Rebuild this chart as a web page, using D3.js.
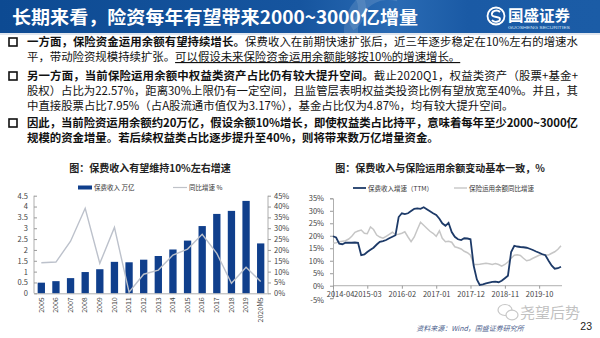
<!DOCTYPE html>
<html>
<head>
<meta charset="utf-8">
<script src="https://cdnjs.cloudflare.com/ajax/libs/d3/7.8.5/d3.min.js"></script>
<style>
  html, body { margin: 0; padding: 0; background: #fff; }
  svg { display: block; }
  text { font-family: "Noto Sans CJK SC", "Noto Sans", sans-serif; }
  .num { font-family: "Liberation Sans", Arial, sans-serif; }
</style>
</head>
<body>
<svg id="slide" width="600" height="338"></svg>
<script>
// ---- left chart: annual premium income (trillion yuan) and YoY growth (%)
const years = ["2005","2006","2007","2008","2009","2010","2011","2012","2013","2014","2015","2016","2017","2018","2019","2020M5"];
const premium = [0.49,0.56,0.70,0.98,1.11,1.45,1.43,1.55,1.72,2.02,2.43,3.10,3.66,3.80,4.26,2.30];
const premiumYoY = [14.1,14.4,24.0,39.2,13.8,30.4,0.5,8.8,10.7,17.6,20.4,27.2,18.4,4.6,12.0,5.4];
const leftTicks = [0,0.5,1,1.5,2,2.5,3,3.5,4,4.5];
const rightTicks = [0,5,10,15,20,25,30,35,40,45];

// ---- right chart: monthly growth rates (%), 2014-04 to 2020-05
const monthStart = "2014-04";
const premiumTTM = [19.8,19.3,16.8,16.6,17.2,17.2,17.2,17.3,17.2,12.2,
  12.5,13.5,14.4,15.2,16.5,17.6,17.9,18.3,19.0,19.6,
  20.2,27.5,29.0,28.7,29.0,29.9,30.8,31.0,30.8,31.4,
  30.6,29.8,29.0,28.3,26.8,25.0,24.0,25.2,21.5,19.6,
  18.6,18.3,19.0,18.9,18.6,8.0,2.5,0.3,0.5,0.9,
  1.2,1.5,1.6,1.4,2.0,3.0,4.0,13.5,16.0,15.7,
  15.5,15.4,15.2,14.8,14.3,13.7,13.2,12.6,12.2,10.0,
  8.0,6.8,7.0,7.6];
const fundsYoY = [17.0,17.2,17.6,17.8,18.0,18.7,19.8,21.4,21.9,22.3,
  21.0,20.8,23.5,22.5,20.3,19.5,19.0,19.8,20.6,21.4,
  20.5,20.6,21.0,21.6,19.5,17.6,19.5,22.5,25.4,24.2,
  23.0,21.8,21.0,19.8,22.0,19.0,17.6,17.8,17.4,15.6,
  15.2,14.7,13.8,13.2,12.2,8.6,8.5,8.6,8.8,9.0,
  8.8,8.5,8.9,8.5,7.8,8.5,9.5,11.0,12.2,12.4,
  12.1,11.0,10.0,10.3,11.0,11.6,12.2,12.6,12.4,12.3,
  13.0,13.6,14.6,16.0];
const monthTickLabels = ["2014-04","2015-03","2016-02","2017-01","2017-12","2018-11","2019-10"];
const pctTicks = [-5,0,5,10,15,20,25,30,35];

const svg = d3.select("#slide");
svg.append("rect").attr("width", 600).attr("height", 338).attr("fill", "#fff");

// ---- header band
const defs = svg.append("defs");
const hg = defs.append("linearGradient").attr("id", "hdr").attr("x1", "0").attr("x2", "1");
[["0%","#0d4a92"],["50%","#16559f"],["66%","#2a6bb4"],["78%","#1a5aa5"],["100%","#1b5ca6"]]
  .forEach(([o,c]) => hg.append("stop").attr("offset", o).attr("stop-color", c));
svg.append("rect").attr("x", 0).attr("y", 0).attr("width", 600).attr("height", 33).attr("fill", "url(#hdr)");
// faint ring decoration in the band
const hclip = defs.append("clipPath").attr("id", "hclip");
hclip.append("rect").attr("width", 600).attr("height", 33);
const deco = svg.append("g").attr("clip-path", "url(#hclip)");
deco.append("path")
  .attr("d", d3.arc()({innerRadius: 30, outerRadius: 44, startAngle: -2.6, endAngle: 0.3}))
  .attr("transform", "translate(388,30)").attr("fill", "#ffffff").attr("opacity", 0.13);
deco.append("path")
  .attr("d", d3.arc()({innerRadius: 18, outerRadius: 26, startAngle: 0.9, endAngle: 2.6}))
  .attr("transform", "translate(340,8)").attr("fill", "#ffffff").attr("opacity", 0.1);
svg.append("rect").attr("x", 0).attr("y", 33).attr("width", 600).attr("height", 2).attr("fill", "#dfe5ee");

svg.append("text").attr("x", 12).attr("y", 24)
  .attr("font-size", 18).attr("font-weight", "bold").attr("fill", "#fff")
  .attr("textLength", 406).attr("lengthAdjust", "spacingAndGlyphs")
  .text("长期来看，险资每年有望带来2000~3000亿增量");

// company mark
const logo = svg.append("g").attr("transform", "translate(496,16)");
logo.append("circle").attr("r", 8.5).attr("fill", "none").attr("stroke", "#fff").attr("stroke-width", 1.8);
logo.append("path").attr("d", "M4,-4 C1,-7 -5,-5 -4,-1 C-3,2 4,0 4,3 C4,6 -2,7 -4,4")
  .attr("fill", "none").attr("stroke", "#fff").attr("stroke-width", 1.8);
svg.append("text").attr("x", 508).attr("y", 21).attr("font-size", 15).attr("font-weight", "bold")
  .attr("fill", "#fff").attr("textLength", 62).attr("lengthAdjust", "spacingAndGlyphs").text("国盛证券");
svg.append("text").attr("class", "num").attr("x", 508).attr("y", 28.5).attr("font-size", 3.4)
  .attr("fill", "#d6e4f5").attr("textLength", 62).attr("lengthAdjust", "spacingAndGlyphs").text("GUOSHENG SECURITIES");

// ---- bullet paragraphs
const body = svg.append("g").attr("font-size", 11.4).attr("fill", "#111");
const paras = [
  {y: 46, lines: [
    {parts: [["一方面，保险资金运用余额有望持续增长。", true], ["保费收入在前期快速扩张后，近三年逐步稳定在10%左右的增速水", false]], full: true},
    {parts: [["平，带动险资规模持续扩张。", false], ["可以假设未来保险资金运用余额能够按10%的增速增长。", false, true]]}
  ]},
  {y: 80, lines: [
    {parts: [["另一方面，当前保险运用余额中权益类资产占比仍有较大提升空间。", true], ["截止2020Q1，权益类资产（股票+基金+", false]], full: true},
    {parts: [["股权）占比为22.57%，距离30%上限仍有一定空间，且监管层表明权益类投资比例有望放宽至40%。并且，其", false]], full: true},
    {parts: [["中直接股票占比7.95%（占A股流通市值仅为3.17%），基金占比仅为4.87%，均有较大提升空间。", false]]}
  ]},
  {y: 127, lines: [
    {parts: [["因此，当前险资运用余额约20万亿，假设余额10%增长，即使权益类占比持平，意味着每年至少2000~3000亿", true]], full: true},
    {parts: [["规模的资金增量。若后续权益类占比逐步提升至40%，则将带来数万亿增量资金。", true]]}
  ]}
];
paras.forEach(p => {
  body.append("rect").attr("x", 9).attr("y", p.y - 8).attr("width", 8).attr("height", 8)
    .attr("fill", "none").attr("stroke", "#111").attr("stroke-width", 1.6);
  p.lines.forEach((ln, i) => {
    const t = body.append("text").attr("x", 27).attr("y", p.y + i * 15);
    if (ln.full) t.attr("textLength", 551).attr("lengthAdjust", "spacing");
    ln.parts.forEach(([s, bold, under]) => {
      const ts = t.append("tspan").text(s);
      if (bold) ts.attr("font-weight", "bold");
      if (under) ts.attr("text-decoration", "underline");
    });
  });
});

// ---- left chart
const navy = "#103f8c";
const lg = svg.append("g");
lg.append("text").attr("x", 150).attr("y", 172).attr("text-anchor", "middle")
  .attr("font-size", 10).attr("font-weight", "bold").attr("fill", "#222").text("图：保费收入有望维持10%左右增速");
lg.append("rect").attr("x", 78).attr("y", 185.5).attr("width", 14).attr("height", 4).attr("fill", navy);
lg.append("text").attr("x", 94).attr("y", 190).attr("font-size", 6.5).attr("fill", "#333").text("保费收入 万亿");
lg.append("line").attr("x1", 173).attr("x2", 187).attr("y1", 187.5).attr("y2", 187.5).attr("stroke", "#bfc2c8").attr("stroke-width", 1.2);
lg.append("text").attr("x", 189).attr("y", 190).attr("font-size", 6.5).attr("fill", "#333").text("同比增速 %");

const xb = d3.scaleBand().domain(years).range([34, 268]).paddingInner(0.5).paddingOuter(0.25);
const yl = d3.scaleLinear().domain([0, 4.5]).range([293.3, 195.7]);
const yr = d3.scaleLinear().domain([0, 45]).range([293.3, 195.7]);

lg.selectAll("rect.bar").data(premium).join("rect").attr("class", "bar")
  .attr("x", (d, i) => xb(years[i])).attr("width", xb.bandwidth())
  .attr("y", d => yl(d)).attr("height", d => yl(0) - yl(d)).attr("fill", navy);

lg.append("path").datum(premiumYoY)
  .attr("d", d3.line().x((d, i) => xb(years[i]) + xb.bandwidth() / 2).y(d => yr(d)))
  .attr("fill", "none").attr("stroke", "#bcc1cb").attr("stroke-width", 1.4);

const axL = lg.append("g").attr("class", "num").attr("transform", "translate(34,0)")
  .call(d3.axisLeft(yl).tickValues(leftTicks).tickSize(-3).tickPadding(6).tickFormat(d3.format("")));
const axR = lg.append("g").attr("class", "num").attr("transform", "translate(268,0)")
  .call(d3.axisRight(yr).tickValues(rightTicks).tickSize(3).tickPadding(3).tickFormat(d => d + "%"));
const axX = lg.append("g").attr("class", "num").attr("transform", "translate(0,293.3)")
  .call(d3.axisBottom(xb).tickSize(0).tickPadding(0));
axX.selectAll("text").attr("transform", "rotate(-90)").attr("text-anchor", "end")
  .attr("x", -4).attr("y", 0).attr("dy", "0.32em");
[axL, axR, axX].forEach(a => {
  a.selectAll("path.domain").attr("stroke", "#9a9a9a").attr("stroke-width", 0.8);
  a.selectAll("line").attr("stroke", "#9a9a9a");
  a.selectAll("text").attr("font-size", 7.5).attr("fill", "#444").attr("font-family", "Liberation Sans, Arial, sans-serif");
});
axX.selectAll("text").attr("font-size", 7);
axR.select("path.domain").attr("d", "M0,195.7V293.3");
axL.select("path.domain").attr("d", "M0,195.7V293.3");

// ---- right chart
const rg = svg.append("g");
rg.append("text").attr("x", 440).attr("y", 172).attr("text-anchor", "middle")
  .attr("font-size", 10).attr("font-weight", "bold").attr("fill", "#222").text("图：保费收入与保险运用余额变动基本一致，%");
rg.append("line").attr("x1", 353).attr("x2", 366).attr("y1", 188).attr("y2", 188).attr("stroke", "#1d3a68").attr("stroke-width", 1.8);
rg.append("text").attr("x", 368).attr("y", 190.5).attr("font-size", 6.5).attr("fill", "#333").text("保费收入增速（TTM）");
rg.append("line").attr("x1", 454).attr("x2", 467).attr("y1", 188).attr("y2", 188).attr("stroke", "#c6c6c6").attr("stroke-width", 1.4);
rg.append("text").attr("x", 469).attr("y", 190.5).attr("font-size", 6.5).attr("fill", "#333").text("保险运用余额同比增速");

const parseMonth = d3.timeParse("%Y-%m");
const m0 = parseMonth(monthStart);
const monthOf = i => d3.timeMonth.offset(m0, i);
const xt = d3.scaleTime().domain([m0, monthOf(premiumTTM.length - 1)]).range([333, 561]);
const yp = d3.scaleLinear().domain([-5, 35]).range([298.2, 198.3]);

const axY2 = rg.append("g").attr("transform", "translate(333,0)")
  .call(d3.axisLeft(yp).tickValues(pctTicks).tickSize(3).tickPadding(6).tickFormat(d => d + "%"));
const axX2 = rg.append("g").attr("transform", `translate(0,${yp(0)})`)
  .call(d3.axisBottom(xt).tickValues(monthTickLabels.map(parseMonth)).tickSize(3).tickPadding(3)
    .tickFormat(d3.timeFormat("%Y-%m")));
axX2.select("path.domain").attr("d", `M333,0H562`);
[axY2, axX2].forEach(a => {
  a.selectAll("path.domain").attr("stroke", "#9a9a9a").attr("stroke-width", 0.8);
  a.selectAll("line").attr("stroke", "#9a9a9a");
  a.selectAll("text").attr("font-size", 7.5).attr("fill", "#444").attr("font-family", "Liberation Sans, Arial, sans-serif");
});
// first date label nudged right so it clears the percentage labels
axX2.selectAll(".tick").filter((d, i) => i === 0).select("text").attr("dx", 7);
axY2.selectAll(".tick").filter(d => d === -5).select("text").attr("dy", "0.6em");

const lineGen = d3.line().x((d, i) => xt(monthOf(i))).y(d => yp(d));
rg.append("path").datum(fundsYoY).attr("d", lineGen)
  .attr("fill", "none").attr("stroke", "#c6c6c6").attr("stroke-width", 1.5);
rg.append("path").datum(premiumTTM).attr("d", lineGen)
  .attr("fill", "none").attr("stroke", "#1d3a68").attr("stroke-width", 1.8);

// ---- footer
svg.append("text").attr("x", 470).attr("y", 331).attr("text-anchor", "middle")
  .attr("font-size", 7).attr("font-style", "italic").attr("fill", "#4b5d8c")
  .text("资料来源：Wind，国盛证券研究所");
svg.append("text").attr("class", "num").attr("x", 592).attr("y", 330).attr("text-anchor", "end")
  .attr("font-size", 10.5).attr("fill", "#222").text("23");

// channel watermark
const wm = svg.append("g").attr("opacity", 0.55);
wm.append("ellipse").attr("cx", 505).attr("cy", 310).attr("rx", 7).attr("ry", 5.5).attr("fill", "none").attr("stroke", "#9a9a9a").attr("stroke-width", 1.2);
wm.append("ellipse").attr("cx", 512).attr("cy", 315).attr("rx", 6).attr("ry", 4.8).attr("fill", "#fff").attr("stroke", "#9a9a9a").attr("stroke-width", 1.2);
wm.append("text").attr("x", 520).attr("y", 318).attr("font-size", 15).attr("fill", "#8f8f8f").text("尧望后势");
</script>
</body>
</html>
